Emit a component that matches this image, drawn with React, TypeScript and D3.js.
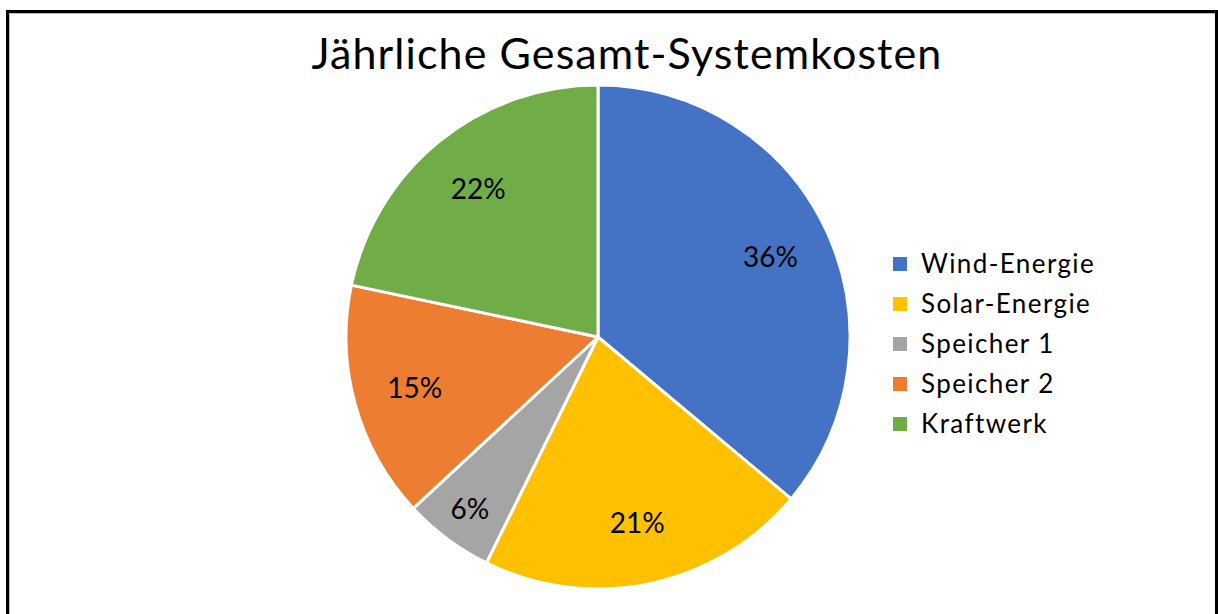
import React, { useEffect, useRef } from "react";
import * as d3 from "d3";

const categories = ["Wind-Energie", "Solar-Energie", "Speicher 1", "Speicher 2", "Kraftwerk"];
const values = [36.1, 21.2, 5.8, 15.2, 21.7];
const labels = ["36%", "21%", "6%", "15%", "22%"];
const colors = ["#4472C4", "#FFC000", "#A5A5A5", "#ED7D31", "#70AD47"];
const title = "Jährliche Gesamt-Systemkosten";

const W = 1218;
const H = 614;
const FONT = "Lato, 'Open Sans', sans-serif";

export default function App() {
  const svgRef = useRef<SVGSVGElement>(null);

  useEffect(() => {
    const svg = d3.select(svgRef.current);
    svg.selectAll("*").remove();

    // frame
    svg.append("rect")
      .attr("x", 7.5).attr("y", 11.5)
      .attr("width", 1209).attr("height", 700)
      .attr("fill", "white").attr("stroke", "black").attr("stroke-width", 3);
    svg.append("path")
      .attr("d", "M9.5,700 V13.5 H1215")
      .attr("fill", "none").attr("stroke", "#bbb").attr("stroke-width", 1);

    svg.append("text")
      .attr("x", 627).attr("y", 69)
      .attr("text-anchor", "middle")
      .style("font-family", FONT)
      .style("font-size", "43px")
      .style("letter-spacing", "1.1px")
      .attr("fill", "#000")
      .text(title);

    const cx = 598;
    const cy = 337;
    const r = 252;

    const pie = d3.pie<number>().sort(null).value((d) => d);
    const arcs = pie(values);
    const arc = d3.arc<d3.PieArcDatum<number>>().innerRadius(0).outerRadius(r);

    const g = svg.append("g").attr("transform", `translate(${cx},${cy})`);
    g.selectAll(".slice")
      .data(arcs)
      .join("path")
      .attr("class", "slice")
      .attr("d", arc)
      .attr("fill", (d, i) => colors[i])
      .attr("stroke", "white")
      .attr("stroke-width", 3)
      .attr("stroke-linejoin", "round");

    g.selectAll(".lbl")
      .data(arcs)
      .join("text")
      .attr("class", "lbl")
      .attr("transform", (d) => {
        const small = d.endAngle - d.startAngle < 0.5;
        const lr = small ? r * 0.85 : r * 0.755;
        const a = (d.startAngle + d.endAngle) / 2;
        return `translate(${lr * Math.sin(a)},${-lr * Math.cos(a)})`;
      })
      .attr("text-anchor", "middle")
      .attr("dy", "0.36em")
      .style("font-family", FONT)
      .style("font-size", "28px")
      .attr("fill", "#000")
      .text((d, i) => labels[i]);

    const legend = svg.append("g").attr("transform", "translate(893,264)");
    const rows = legend.selectAll(".row")
      .data(categories)
      .join("g")
      .attr("class", "row")
      .attr("transform", (d, i) => `translate(0,${i * 40})`);
    rows.append("rect")
      .attr("x", 0).attr("y", -7)
      .attr("width", 14).attr("height", 14)
      .attr("fill", (d, i) => colors[i]);
    rows.append("text")
      .attr("x", 28).attr("dy", "0.36em")
      .style("font-family", FONT)
      .style("font-size", "26px")
      .style("letter-spacing", "1.4px")
      .attr("fill", "#000")
      .text((d) => d);
  }, []);

  return (
    <svg
      ref={svgRef}
      width={W}
      height={H}
      style={{ position: "absolute", left: 0, top: 0, background: "white" }}
    />
  );
}
